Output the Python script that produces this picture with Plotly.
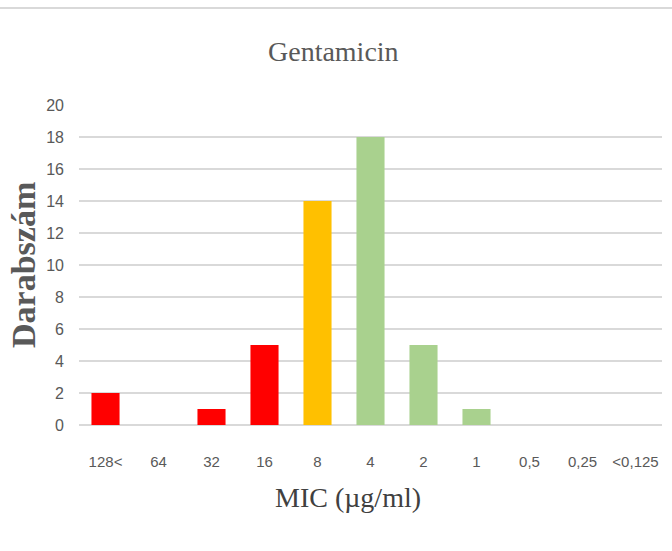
import plotly.graph_objects as go

# MIC categories and isolate counts
mic_labels = ["128<", "64", "32", "16", "8", "4", "2", "1", "0,5", "0,25", "<0,125"]
counts = [2, 0, 1, 5, 14, 18, 5, 1, 0, 0, 0]
bar_colors = ["#FF0000", "#FF0000", "#FF0000", "#FF0000", "#FFC000",
              "#A9D18E", "#A9D18E", "#A9D18E", "#A9D18E", "#A9D18E", "#A9D18E"]
y_ticks = list(range(0, 21, 2))

W, H = 672, 551
ml, mr, mt, mb = 79, 10, 105, 126
pw, ph = W - ml - mr, H - mt - mb

fig = go.Figure(go.Bar(
    x=mic_labels, y=counts,
    marker=dict(color=bar_colors, line=dict(width=0)),
    hoverinfo="x+y",
))

tick_font = dict(family="Liberation Sans Narrow, Arial Narrow, Liberation Sans, sans-serif",
                 size=15, color="#595959")

fig.update_layout(
    width=W, height=H,
    margin=dict(l=ml, r=mr, t=mt, b=mb),
    paper_bgcolor="white", plot_bgcolor="white",
    bargap=0.47,
    showlegend=False,
    title=dict(text="Gentamicin", x=0.496, xref="container", xanchor="center",
               y=1 - 51 / H, yref="container", yanchor="middle",
               font=dict(family="Liberation Serif, Times New Roman, serif", size=28, color="#595959")),
    xaxis=dict(type="category", showgrid=False, showline=False, zeroline=False,
               ticks="", tickfont=tick_font, ticklabelstandoff=26),
    yaxis=dict(range=[0, 20], tickvals=y_ticks, showgrid=True, gridcolor="#D9D9D9",
               gridwidth=1.5, zeroline=True, zerolinecolor="#D9D9D9", zerolinewidth=1.5,
               showline=False, ticks="", tickfont=dict(tick_font, size=16),
               ticklabelstandoff=14),
    shapes=[dict(type="line", xref="paper", yref="paper",
                 x0=-ml / pw, x1=1 + mr / pw, y0=(H - mb - 8) / ph, y1=(H - mb - 8) / ph,
                 line=dict(color="#D9D9D9", width=2))],
    annotations=[
        dict(text="<b>Darabszám</b>", textangle=-90, xref="paper", yref="paper",
             x=(23 - ml) / pw, y=0.5, xanchor="center", yanchor="middle", showarrow=False,
             font=dict(family="Liberation Serif, Times New Roman, serif", size=34, color="#595959")),
        dict(text="MIC (µg/ml)", xref="paper", yref="paper",
             x=(348 - ml) / pw, y=(H - mb - 497) / ph, xanchor="center", yanchor="middle",
             showarrow=False,
             font=dict(family="Liberation Serif, Times New Roman, serif", size=28, color="#404040")),
    ],
)

fig.write_html("out.html")
